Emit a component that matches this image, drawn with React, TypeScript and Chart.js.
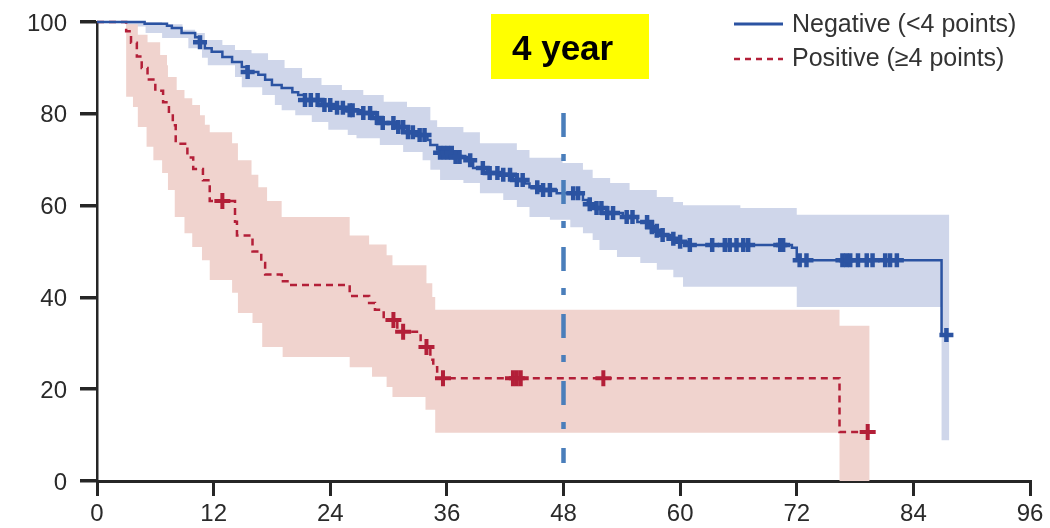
import React, { useEffect, useRef } from "react";
import { Chart, registerables } from "chart.js";
Chart.register(...registerables);

// ---------- data ----------
const xTickValues = [0, 12, 24, 36, 48, 60, 72, 84, 96];
const yTickValues = [0, 20, 40, 60, 80, 100];
const seriesLabels = ["Negative (<4 points)", "Positive (\u22654 points)"];
const annotationText = "4 year";

// Negative (<4 points): Kaplan-Meier steps (month, % surviving)
const negTimes = [0, 4.9, 7.2, 7.7, 8.7, 10.1, 10.5, 11.1, 11.8, 12.9, 13.9, 14.9, 15.4, 16.6, 17.3, 18.0, 19.0, 20.1, 20.7, 21.4, 23.1, 24.5, 25.8, 27.4, 28.4, 29.1, 30.9, 31.9, 33.2, 34.0, 34.3, 35.0, 35.3, 36.6, 38.1, 38.7, 40.1, 41.8, 42.8, 44.0, 44.5, 45.9, 47.3, 50.0, 50.5, 51.0, 52.5, 54.1, 55.6, 56.9, 57.6, 58.2, 59.0, 60.0, 60.7, 71.5, 72.0, 86.9, 87.4];
const negSurv = [100, 99.6, 99.2, 98.7, 97.6, 96.7, 95.6, 94.3, 93.5, 92.4, 91.3, 90.2, 89.1, 88.5, 87.4, 86.3, 85.6, 84.7, 84.1, 83.0, 81.9, 81.3, 80.8, 80.2, 79.1, 78.0, 77.1, 76.0, 75.4, 74.3, 73.2, 72.2, 71.5, 70.6, 69.9, 68.2, 67.1, 66.7, 65.6, 64.8, 64.0, 63.4, 62.7, 61.2, 60.3, 59.5, 58.4, 57.5, 56.4, 55.3, 54.5, 53.6, 52.8, 52.1, 51.4, 50.8, 48.1, 31.8, 31.8];
const negCensorTimes = [10.6, 15.5, 21.4, 22.0, 22.7, 23.4, 24.0, 24.7, 25.3, 26.0, 26.3, 27.4, 28.1, 28.8, 29.4, 30.5, 31.0, 31.5, 32.0, 32.5, 33.2, 33.7, 35.3, 35.7, 36.1, 36.5, 36.9, 37.3, 38.4, 39.7, 40.4, 41.2, 41.8, 42.5, 43.2, 43.8, 45.3, 45.9, 46.6, 49.0, 49.5, 50.7, 51.4, 51.9, 52.5, 53.1, 54.5, 55.1, 56.6, 57.1, 57.6, 58.2, 59.3, 60.0, 61.0, 63.3, 64.6, 65.1, 65.8, 66.5, 67.0, 70.3, 70.6, 72.3, 73.0, 76.7, 77.1, 77.5, 78.3, 79.2, 79.8, 81.1, 81.6, 82.3, 87.4];
const negUpperTimes = [0, 6.7, 8.8, 10.1, 11.1, 12.9, 14.2, 15.9, 17.6, 19.3, 21.1, 23.1, 25.2, 27.4, 29.5, 31.9, 34.3, 35.0, 37.7, 39.4, 43.2, 44.5, 47.9, 50.0, 51.0, 52.8, 54.8, 57.6, 59.3, 60.3, 66.2, 72.0, 87.7];
const negUpperVals = [100, 99.5, 98.3, 97.6, 96.1, 95.0, 93.9, 93.2, 91.7, 90.0, 87.8, 86.3, 85.2, 84.1, 82.6, 81.5, 78.6, 77.1, 76.0, 73.6, 72.1, 70.4, 69.3, 67.8, 66.0, 64.9, 63.4, 61.9, 60.8, 60.1, 59.5, 58.0, 58.0];
const negLowerTimes = [0, 3.0, 5.0, 6.7, 9.4, 10.8, 11.4, 14.2, 14.9, 17.0, 18.3, 19.0, 20.4, 22.1, 23.8, 25.8, 26.7, 29.1, 31.5, 33.5, 34.3, 35.3, 37.7, 39.4, 41.8, 43.2, 44.5, 46.6, 48.7, 50.0, 51.0, 51.7, 53.5, 55.9, 57.6, 59.3, 60.3, 72.0, 86.9, 87.7];
const negLowerVals = [100, 99.0, 97.6, 96.5, 94.3, 92.2, 90.6, 88.0, 85.8, 84.1, 81.9, 80.8, 79.7, 78.2, 76.5, 75.4, 74.7, 73.2, 71.7, 69.9, 67.8, 65.6, 64.9, 62.7, 61.2, 59.7, 57.5, 56.9, 55.3, 54.0, 52.5, 50.3, 48.8, 47.5, 46.0, 44.4, 42.3, 37.9, 8.9, 8.9];

// Positive (>=4 points)
const posTimes = [0, 3.0, 3.5, 4.1, 4.6, 5.2, 6.0, 6.8, 7.4, 7.8, 8.1, 9.3, 9.9, 10.9, 11.6, 14.2, 14.4, 16.0, 16.9, 17.3, 19.0, 19.6, 26.0, 28.0, 28.6, 29.5, 30.9, 33.3, 34.3, 34.6, 35.0, 76.4, 79.3];
const posSurv = [100, 98.0, 95.5, 92.5, 90.0, 87.5, 85.0, 82.5, 80.0, 77.5, 73.5, 70.5, 68.0, 65.5, 61.0, 56.5, 53.5, 50.0, 47.5, 45.0, 43.5, 42.7, 40.3, 38.8, 37.3, 35.1, 32.5, 29.2, 26.4, 24.8, 22.4, 10.7, 10.7];
const posCensorTimes = [12.9, 30.5, 31.5, 33.9, 35.6, 42.8, 43.2, 43.6, 52.1, 79.3];
const posUpperTimes = [0, 3.0, 4.2, 5.2, 6.5, 7.2, 7.3, 8.2, 9.0, 9.8, 10.6, 11.1, 11.6, 13.9, 14.5, 15.9, 16.6, 17.5, 19.0, 26.0, 28.0, 29.8, 30.4, 33.9, 34.5, 34.8, 76.4, 79.5];
const posUpperVals = [100, 99.5, 97.2, 95.6, 92.8, 90.6, 88.0, 85.2, 83.4, 81.9, 79.7, 77.6, 76.0, 73.6, 69.9, 66.7, 64.0, 61.0, 57.5, 53.5, 51.5, 49.2, 47.0, 43.1, 40.1, 37.3, 33.8, 33.8];
const posLowerTimes = [0, 3.0, 3.7, 4.2, 5.1, 5.8, 6.7, 7.3, 8.0, 9.0, 9.8, 10.8, 11.6, 13.9, 14.5, 16.0, 17.0, 19.1, 26.0, 28.3, 29.8, 30.4, 33.8, 34.8, 76.4, 79.5];
const posLowerVals = [100, 83.7, 81.5, 77.1, 72.8, 69.9, 67.1, 63.4, 57.5, 54.0, 51.0, 48.1, 43.8, 41.0, 36.6, 34.4, 29.2, 27.0, 24.8, 22.7, 20.5, 18.3, 15.5, 10.5, 0, 0];

// 4-year reference line
const markerMonth = 48;
const markerSpan = [80.2, 3.9];

// ---------- helpers ----------
const toPoints = (ts: number[], vs: number[]) => ts.map((t, i) => ({ x: t, y: vs[i] }));
const survAt = (ts: number[], vs: number[], t: number) => {
  let v = vs[0];
  for (let i = 0; i < ts.length; i++) if (ts[i] <= t) v = vs[i];
  return v;
};

const BLUE = "#2B53A2";
const RED = "#B31F38";
const BLUE_BAND = "#CFD6EA";
const RED_BAND = "#F0D3CE";
const AXIS = "#262626";
const FONT = "'Liberation Sans', Arial, sans-serif";

const overlayPlugin = {
  id: "overlay",
  afterDraw(chart: any) {
    const ctx = chart.ctx;
    ctx.save();
    // yellow annotation box
    ctx.fillStyle = "#FFFF00";
    ctx.fillRect(491, 14, 158, 65);
    ctx.fillStyle = "#000";
    ctx.font = `bold 35px ${FONT}`;
    ctx.textBaseline = "alphabetic";
    ctx.textAlign = "left";
    ctx.fillText(annotationText, 512, 60);
    // legend
    const items = [
      { label: seriesLabels[0], color: BLUE, dash: [] as number[], y: 24, base: 32 },
      { label: seriesLabels[1], color: RED, dash: [6, 5], y: 59, base: 66 },
    ];
    ctx.font = `25px ${FONT}`;
    for (const it of items) {
      ctx.strokeStyle = it.color;
      ctx.lineWidth = it.dash.length ? 2.5 : 3;
      ctx.setLineDash(it.dash);
      ctx.beginPath();
      ctx.moveTo(734, it.y);
      ctx.lineTo(783, it.y);
      ctx.stroke();
      ctx.setLineDash([]);
      ctx.fillStyle = "#333";
      ctx.fillText(it.label, 792, it.base);
    }
    ctx.restore();
  },
};

export default function App() {
  const ref = useRef<HTMLCanvasElement | null>(null);
  useEffect(() => {
    if (!ref.current) return;
    const chart = new Chart(ref.current, {
      type: "line",
      data: {
        datasets: [
          { label: "negUpper", data: toPoints(negUpperTimes, negUpperVals), stepped: true, fill: "+1", backgroundColor: BLUE_BAND, borderWidth: 0, pointRadius: 0, order: 10 },
          { label: "negLower", data: toPoints(negLowerTimes, negLowerVals), stepped: true, fill: false, borderWidth: 0, pointRadius: 0, order: 10 },
          { label: "posUpper", data: toPoints(posUpperTimes, posUpperVals), stepped: true, fill: "+1", backgroundColor: RED_BAND, borderWidth: 0, pointRadius: 0, order: 9 },
          { label: "posLower", data: toPoints(posLowerTimes, posLowerVals), stepped: true, fill: false, borderWidth: 0, pointRadius: 0, order: 9 },
          { label: seriesLabels[0], data: toPoints(negTimes, negSurv), stepped: true, fill: false, borderColor: BLUE, borderWidth: 2.5, pointRadius: 0, order: 5, clip: false },
          { label: seriesLabels[1], data: toPoints(posTimes, posSurv), stepped: true, fill: false, borderColor: RED, borderWidth: 2.5, borderDash: [7, 5], pointRadius: 0, order: 5, clip: false },
          { label: "negCensor", data: negCensorTimes.map((t) => ({ x: t, y: survAt(negTimes, negSurv, t) })), showLine: false, pointStyle: "cross", pointRadius: 7, borderColor: BLUE, pointBorderWidth: 4.5, borderWidth: 4.5, order: 4, clip: false },
          { label: "posCensor", data: posCensorTimes.map((t) => ({ x: t, y: survAt(posTimes, posSurv, t) })), showLine: false, pointStyle: "cross", pointRadius: 8, borderColor: RED, pointBorderWidth: 4, borderWidth: 4, order: 4, clip: false },
          { label: "marker", data: markerSpan.map((v) => ({ x: markerMonth, y: v })), fill: false, borderColor: "#4A7EBB", borderWidth: 4.5, borderDash: [24, 17, 7, 19], borderCapStyle: "butt", pointRadius: 0, order: 1 },
        ] as any,
      },
      options: {
        animation: false,
        responsive: false,
        devicePixelRatio: 1,
        events: [],
        layout: { padding: { left: 0, right: 20, top: 22, bottom: 0 } },
        plugins: { legend: { display: false }, tooltip: { enabled: false }, title: { display: false } },
        scales: {
          x: {
            type: "linear",
            min: 0,
            max: 96,
            afterFit: (s: any) => { s.height = 47; s.paddingLeft = 0; s.paddingRight = 0; },
            afterBuildTicks: (s: any) => { s.ticks = xTickValues.map((v) => ({ value: v })); },
            ticks: { font: { family: FONT, size: 24 }, color: "#2a2a2a", padding: 4, maxRotation: 0, autoSkip: false },
            grid: { drawOnChartArea: false, drawTicks: true, tickLength: 15, lineWidth: 3, color: AXIS },
            border: { display: true, color: AXIS, width: 3 },
          },
          y: {
            type: "linear",
            min: 0,
            max: 100,
            afterFit: (s: any) => { s.width = 97; s.paddingTop = 0; s.paddingBottom = 0; },
            afterBuildTicks: (s: any) => { s.ticks = yTickValues.map((v) => ({ value: v })); },
            ticks: { font: { family: FONT, size: 24 }, color: "#2a2a2a", padding: 13, labelOffset: 2, autoSkip: false },
            grid: { drawOnChartArea: false, drawTicks: true, tickLength: 17, lineWidth: 3.5, color: AXIS },
            border: { display: true, color: AXIS, width: 2.5 },
          },
        },
      },
      plugins: [overlayPlugin],
    });
    return () => chart.destroy();
  }, []);
  return (
    <div style={{ position: "absolute", left: 0, top: 0, width: 1050, height: 528, background: "#fff" }}>
      <canvas ref={ref} width={1050} height={528} style={{ display: "block" }} />
    </div>
  );
}
